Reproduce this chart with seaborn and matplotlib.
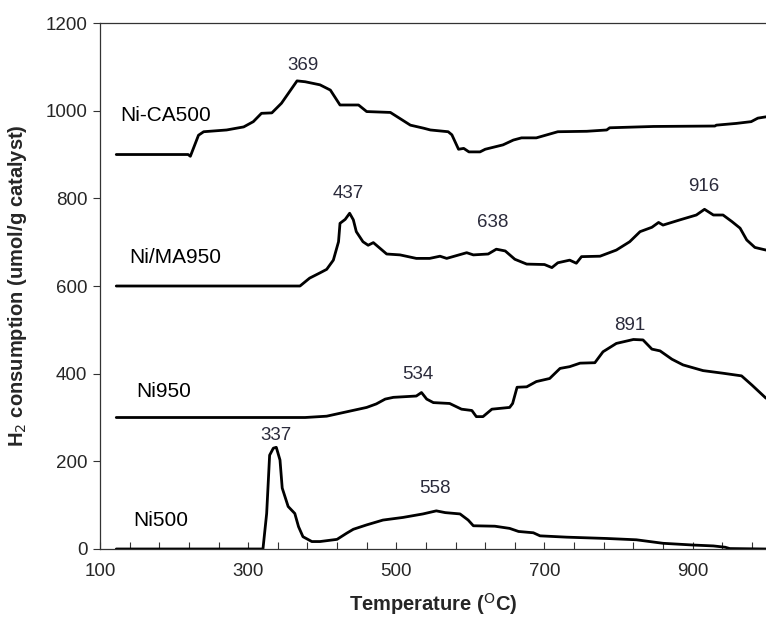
import matplotlib
matplotlib.use("Agg")
import matplotlib.pyplot as plt
import seaborn as sns
import pandas as pd

# TPR profiles (temperature in C, H2 uptake)
ca500_t = [122, 219, 222, 233, 240, 271, 294, 307, 318, 332, 345, 366, 377, 397, 411, 424, 449, 460, 492, 519,
           537, 546, 570, 575, 584, 591, 598, 613, 620, 644, 658, 669, 689, 718, 757, 784, 788, 847, 930, 932,
           959, 979, 988, 999]
ca500_v = [900, 900, 896, 944, 952, 956, 963, 975, 994, 995, 1017, 1068, 1066, 1059, 1047, 1013, 1013, 998, 996, 967,
           960, 956, 952, 945, 912, 914, 906, 906, 912, 922, 933, 938, 938, 952, 953, 956, 961, 964, 965, 967,
           971, 975, 983, 986]

ma950_t = [122, 370, 383, 397, 406, 415, 422, 424, 431, 437, 442, 446, 455, 462, 469, 487, 505, 527, 545, 559,
           568, 595, 604, 624, 635, 647, 660, 676, 700, 710, 718, 734, 743, 750, 775, 797, 815, 829, 845, 854,
           860, 883, 905, 916, 928, 941, 953, 964, 973, 984, 999]
ma950_v = [600, 600, 618, 630, 638, 659, 701, 743, 752, 766, 751, 724, 701, 693, 699, 673, 671, 663, 663, 668,
           663, 676, 671, 673, 684, 680, 661, 650, 649, 642, 653, 659, 652, 667, 668, 682, 701, 724, 734, 745,
           739, 751, 762, 775, 762, 762, 747, 732, 705, 688, 682]

ni950_t = [122, 377, 406, 433, 460, 473, 485, 496, 527, 534, 541, 550, 572, 588, 602, 608, 617, 629, 653, 657,
           663, 676, 689, 707, 721, 734, 748, 768, 779, 797, 820, 833, 845, 856, 872, 887, 914, 941, 966, 980, 999]
ni950_v = [300, 300, 303, 313, 323, 331, 342, 346, 349, 357, 342, 334, 332, 319, 316, 302, 302, 319, 323, 332,
           369, 370, 382, 389, 412, 416, 424, 425, 450, 469, 478, 477, 456, 452, 433, 420, 407, 401, 395, 374, 344]

ni500_t = [122, 320, 325, 329, 334, 338, 343, 346, 354, 363, 368, 374, 386, 397, 420, 433, 442, 460, 482, 509,
           536, 554, 566, 586, 597, 604, 633, 653, 665, 685, 694, 730, 784, 824, 860, 901, 928, 944, 950, 999]
ni500_v = [0, 0, 81, 214, 230, 232, 203, 139, 97, 81, 51, 28, 17, 17, 22, 36, 45, 55, 66, 72,
           80, 87, 83, 80, 66, 53, 52, 47, 40, 37, 30, 27, 24, 21, 13, 9, 7, 4, 1, 0]

series = {
    "Ni-CA500": (ca500_t, ca500_v),
    "Ni/MA950": (ma950_t, ma950_v),
    "Ni950": (ni950_t, ni950_v),
    "Ni500": (ni500_t, ni500_v),
}

# sample name labels and peak temperatures (text, x, y)
name_labels = [("Ni-CA500", 127, 990), ("Ni/MA950", 140, 664), ("Ni950", 149, 359), ("Ni500", 145, 66)]
peak_labels = [("369", 374, 1104), ("437", 435, 812), ("638", 630, 744), ("916", 915, 828),
               ("534", 529, 397), ("891", 815, 511), ("337", 338, 260), ("558", 552, 139)]

sns.set_style("white")
plt.rcParams['font.family'] = ['Liberation Sans', 'DejaVu Sans']

frames = []
for name, (t, v) in series.items():
    frames.append(pd.DataFrame({"T": t, "H2": v, "sample": name}))
df = pd.concat(frames, ignore_index=True)

fig = plt.figure(figsize=(7.66, 6.24), dpi=100)
ax = fig.add_axes([0.1305, 0.1202, 0.8695, 0.8429])

for name in series:
    sns.lineplot(data=df[df["sample"] == name], x="T", y="H2", ax=ax, color="black",
                 linewidth=2.0, estimator=None, sort=False, legend=False)

for txt, x, y in name_labels:
    ax.text(x, y, txt, fontsize=15, ha="left", va="center", color="black")
for txt, x, y in peak_labels:
    ax.text(x, y, txt, fontsize=13.5, ha="center", va="center", color="#2b2b3b")

ax.set_xlim(100, 999)
ax.set_ylim(0, 1200)
ax.set_xticks([100, 300, 500, 700, 900])
ax.set_xticks(list(range(140, 1000, 40)), minor=True)
ax.set_yticks(range(0, 1201, 200))
ax.tick_params(axis="x", which="both", direction="in", length=5, width=0.8, color="#333333",
               labelsize=13.5, pad=10, bottom=True)
ax.tick_params(axis="y", direction="out", length=5, width=0.8, color="#333333",
               labelsize=13.5, pad=4, left=True)

for side in ["left", "bottom", "top"]:
    ax.spines[side].set_color("#333333")
    ax.spines[side].set_linewidth(0.9)
ax.spines["right"].set_visible(False)

ax.set_xlabel("Temperature ($^{\\mathrm{O}}$C)", fontsize=14.5, fontweight="bold")
ax.set_ylabel("H$_2$ consumption (umol/g catalyst)", fontsize=14.5, fontweight="bold")
ax.xaxis.set_label_coords(0.5, -0.08)
ax.yaxis.set_label_coords(-0.106, 0.5)

fig.savefig("out.png", dpi=100)
